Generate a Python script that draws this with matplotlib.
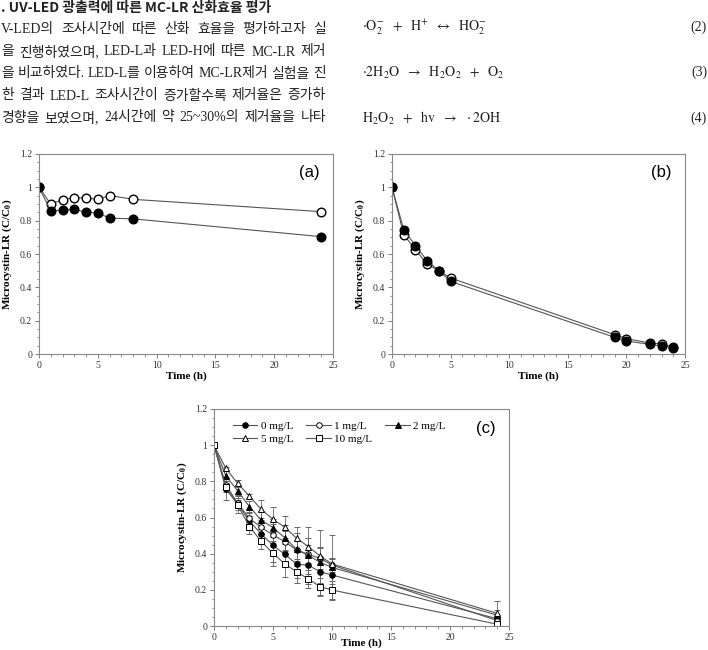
import matplotlib.pyplot as plt
import numpy as np
from matplotlib.ticker import MultipleLocator, FuncFormatter
from matplotlib.lines import Line2D

plt.rcParams['font.family'] = ['Liberation Serif', 'Noto Sans CJK KR']
plt.rcParams['mathtext.fontset'] = 'stix'

# page text around the figure
title_line = ". UV-LED 광출력에 따른 MC-LR 산화효율 평가"
body_lines = [
    "V-LED의 조사시간에 따른 산화 효율을 평가하고자 실",
    "을 진행하였으며, LED-L과 LED-H에 따른 MC-LR 제거",
    "을 비교하였다. LED-L를 이용하여 MC-LR제거 실험을 진",
    "한 결과 LED-L 조사시간이 증가할수록 제거율은 증가하",
    "경향을 보였으며, 24시간에 약 25~30%의 제거율을 나타",
]
equations = [
    r"$\cdot\mathrm{O_2^{-}}\ \ +\ \ \mathrm{H^{+}}\ \ \leftrightarrow\ \ \mathrm{HO_2^{-}}$",
    r"$\cdot\mathrm{2H_2O}\ \ \rightarrow\ \ \mathrm{H_2O_2}\ \ +\ \ \mathrm{O_2}$",
    r"$\mathrm{H_2O_2}\ \ +\ \ \mathrm{hv}\ \ \rightarrow\ \ \cdot\mathrm{2OH}$",
]
eq_numbers = ["(2)", "(3)", "(4)"]

# (a)
time_a = [0, 1, 2, 3, 4, 5, 6, 8, 24]
a_open = [1.0, 0.90, 0.925, 0.938, 0.936, 0.928, 0.951, 0.928, 0.854]
a_filled = [1.0, 0.859, 0.863, 0.869, 0.850, 0.847, 0.815, 0.811, 0.704]

# (b)
time_b = [0, 1, 2, 3, 4, 5, 19, 20, 22, 23, 24]
b_open = [1.0, 0.716, 0.626, 0.538, 0.50, 0.456, 0.116, 0.092, 0.066, 0.062, 0.04]
b_filled = [1.0, 0.746, 0.65, 0.56, 0.50, 0.436, 0.10, 0.078, 0.058, 0.048, 0.038]

# (c)
time_c = [0, 1, 2, 3, 4, 5, 6, 7, 8, 9, 10, 24]
c_labels = ['0 mg/L', '1 mg/L', '2 mg/L', '5 mg/L', '10 mg/L']
c_0 = [1.0, 0.758, 0.675, 0.58, 0.509, 0.446, 0.396, 0.343, 0.335, 0.30, 0.282, 0.04]
c_1 = [1.0, 0.78, 0.68, 0.595, 0.546, 0.503, 0.466, 0.42, 0.396, 0.374, 0.337, 0.03]
c_2 = [1.0, 0.831, 0.748, 0.66, 0.586, 0.544, 0.488, 0.424, 0.39, 0.352, 0.324, 0.06]
c_5 = [1.0, 0.872, 0.789, 0.719, 0.645, 0.59, 0.546, 0.485, 0.439, 0.387, 0.343, 0.07]
c_10 = [1.0, 0.77, 0.669, 0.55, 0.468, 0.402, 0.343, 0.30, 0.26, 0.217, 0.199, 0.01]
e_0 = [0, 0.06, 0.05, 0.03, 0.04, 0.09, 0.06, 0.08, 0.05, 0.06, 0.05, 0.02]
e_1 = [0, 0.04, 0.03, 0.03, 0.04, 0.06, 0.06, 0.05, 0.05, 0.06, 0.04, 0.02]
e_2 = [0, 0.03, 0.03, 0.03, 0.05, 0.05, 0.07, 0.09, 0.16, 0.18, 0.18, 0.08]
e_5 = [0, 0.01, 0.02, 0.01, 0.05, 0.07, 0.06, 0.06, 0.05, 0.05, 0.03, 0.02]
e_10 = [0, 0.02, 0.03, 0.04, 0.04, 0.07, 0.07, 0.06, 0.05, 0.05, 0.05, 0.01]

W, H = 708, 650
fig = plt.figure(figsize=(W / 100, H / 100), dpi=100)
renderer = fig.canvas.get_renderer()

def px(x, y):
    return x / W, 1 - y / H

# header text
fig.text(*px(1, 1), title_line, fontsize=10, fontweight='bold',
         family=['Noto Sans CJK KR'], color='#222222', va='top', ha='left')

# body lines, justified between left and right edge of the column
left, right = 1, 326
for i, line in enumerate(body_lines):
    y = 30 + 22 * i
    words = line.split(' ')
    texts = [fig.text(*px(0, y), w, fontsize=10, va='center', ha='left',
                      color='#222222') for w in words]
    widths = [t.get_window_extent(renderer).width for t in texts]
    gap = (right - left - sum(widths)) / (len(words) - 1)
    x = left
    for t, w in zip(texts, widths):
        t.set_position(px(x, y))
        x += w + gap

for i, (eq, num) in enumerate(zip(equations, eq_numbers)):
    y = 27 + 45.5 * i
    fig.text(*px(362, y), eq, fontsize=10, va='center', ha='left', color='#222222')
    fig.text(*px(707, y), num, fontsize=10, va='center', ha='right', color='#222222')

line_col = '#555555'

def style(ax, xpad=1):
    ax.set_xlim(0, 25)
    ax.set_ylim(0, 1.2)
    ax.xaxis.set_major_locator(MultipleLocator(5))
    ax.xaxis.set_minor_locator(MultipleLocator(1))
    ax.yaxis.set_major_locator(MultipleLocator(0.2))
    ax.yaxis.set_minor_locator(MultipleLocator(0.05))
    ax.yaxis.set_major_formatter(FuncFormatter(lambda v, p: f"{v:g}"))
    for s in ax.spines.values():
        s.set_color('#888888')
        s.set_linewidth(0.8)
    ax.tick_params(which='major', labelsize=7, direction='out', length=3,
                   width=0.6, color='#666666', labelcolor='#333333', pad=2)
    ax.tick_params(which='minor', direction='out', length=1.8, width=0.5,
                   color='#666666')
    ax.set_xlabel('Time (h)', fontsize=8, fontweight='bold', labelpad=xpad)
    ax.set_ylabel(r'Microcystin-LR (C/C$_\mathbf{0}$)', fontsize=8,
                  fontweight='bold', labelpad=4)

def axes_at(x0, x1, y0, y1):
    return fig.add_axes([x0 / W, 1 - y1 / H, (x1 - x0) / W, (y1 - y0) / H])

ax_a = axes_at(39, 333, 154, 354)
ax_b = axes_at(392, 685, 154, 354)
ax_c = axes_at(214, 509, 409, 626)

big = dict(color=line_col, lw=0.8, ms=6.2, mec='black', mew=1.0)
ax_a.plot(time_a, a_open, 'o-', mfc='white', **big)
ax_a.plot(time_a, a_filled, 'o-', mfc='black', **big)
ax_b.plot(time_b, b_open, 'o-', mfc='white', **big)
ax_b.plot(time_b, b_filled, 'o-', mfc='black', **big)

series_c = [(c_0, e_0, 'o', 'black'), (c_1, e_1, 'o', 'white'),
            (c_2, e_2, '^', 'black'), (c_5, e_5, '^', 'white'),
            (c_10, e_10, 's', 'white')]
handles = []
for (vals, errs, m, fc), lab in zip(series_c, c_labels):
    ax_c.errorbar(time_c, vals, yerr=errs, fmt=m + '-', color=line_col, lw=0.8,
                  ms=4.0, mfc=fc, mec='black', mew=0.7, ecolor='#666666',
                  elinewidth=0.6, capsize=2.5, capthick=0.6)
    handles.append(Line2D([], [], color=line_col, lw=0.8, marker=m, ms=4.0,
                          mfc=fc, mec='black', mew=0.7, label=lab))

style(ax_a)
style(ax_b)
style(ax_c, xpad=-2.5)

order = [0, 3, 1, 4, 2]
ax_c.legend([handles[i] for i in order], [c_labels[i] for i in order], ncol=3,
            loc='upper left', bbox_to_anchor=(0.03, 0.99), frameon=False,
            fontsize=8, handlelength=2.2, columnspacing=1.2, handletextpad=0.3,
            labelspacing=0.3)

for ax, lab in ((ax_a, '(a)'), (ax_b, '(b)'), (ax_c, '(c)')):
    ax.text(0.92, 0.91, lab, transform=ax.transAxes, fontsize=12,
            family='Liberation Sans', ha='center', va='center')

fig.savefig('out.png', dpi=100)
